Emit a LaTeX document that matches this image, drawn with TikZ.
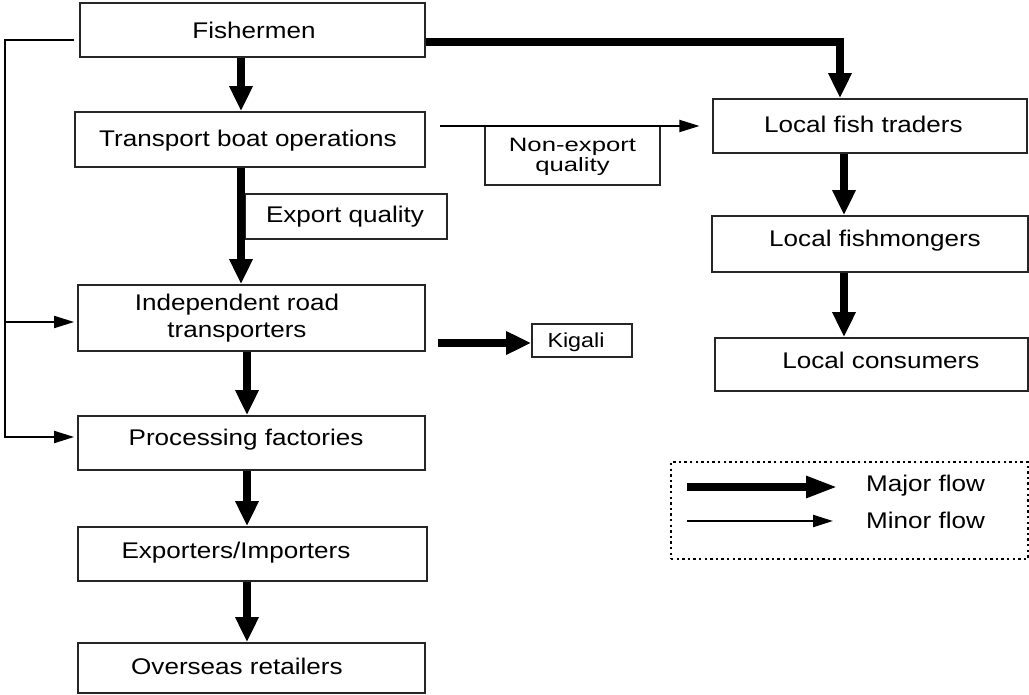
\documentclass[tikz,border=0pt]{standalone}
\usepackage{fontspec}
\setmainfont{Liberation Sans}[FakeStretch=1.15]
\newfontfamily\widefont{Liberation Sans}[FakeStretch=1.33]
\usetikzlibrary{arrows.meta}
\def\pu{0.75pt}
\begin{document}
\begin{tikzpicture}[x=0.75pt,y=-0.75pt,
  box/.style={draw=black!85, line width=1.3pt, inner sep=0pt, rectangle},
  txt/.style={font=\fontsize{17}{20.25}\selectfont, align=center, inner sep=0pt},
  smalltxt/.style={font=\widefont\fontsize{14.5}{15}\selectfont, align=center, inner sep=0pt},
  kigtxt/.style={font=\fontsize{15.2}{17}\selectfont, inner sep=0pt},
  major/.style={line width=5.5pt, -{Triangle[width=16.5pt,length=18.75pt]}},
  minor/.style={line width=1.4pt, -{Triangle[width=9pt,length=15pt]}},
  legmajor/.style={line width=6pt, -{Triangle[width=15pt,length=24pt]}},
  legminor/.style={line width=1.6pt, -{Triangle[width=9pt,length=15pt]}},
  legbox/.style={draw=black, line width=2.2pt, dash pattern=on 1.8pt off 2.4pt, inner sep=0pt, rectangle}
]
\useasboundingbox (0,0) rectangle (1029,695);

% boxes
\node[box, minimum width=345*\pu, minimum height=54*\pu, label={[txt,xshift=1.1pt]center:Fishermen}] (fish) at (252.5,30) {};
\node[box, minimum width=350*\pu, minimum height=55*\pu, label={[txt,xshift=-1.5pt,yshift=-1.1pt]center:Transport boat operations}] (trans) at (250,139.5) {};
\node[box, minimum width=202*\pu, minimum height=45*\pu, label={[txt,xshift=-0.75pt]center:Export quality}] (expq) at (346,216.5) {};
\node[box, minimum width=175*\pu, minimum height=59*\pu, label={[smalltxt,yshift=-1.1pt]center:Non-export\\quality}] (nonexp) at (572.5,155.5) {};
\node[box, minimum width=314*\pu, minimum height=54*\pu, label={[txt,xshift=-4.9pt,yshift=1.5pt]center:Local fish traders}] (lft) at (870,126) {};
\node[box, minimum width=316*\pu, minimum height=56*\pu, label={[txt,xshift=3.75pt,yshift=2.25pt]center:Local fishmongers}] (lfm) at (870,244) {};
\node[box, minimum width=313*\pu, minimum height=53*\pu, label={[txt,xshift=7.1pt,yshift=3.4pt]center:Local consumers}] (lc) at (871.5,364.5) {};
\node[box, minimum width=347*\pu, minimum height=66*\pu, label={[txt,xshift=-10.9pt]center:Independent road\\transporters}] (ind) at (251.5,318) {};
\node[box, minimum width=100*\pu, minimum height=33*\pu, label={[kigtxt,xshift=-4.5pt,yshift=-1.1pt]center:Kigali}] (kig) at (582,340.5) {};
\node[box, minimum width=347*\pu, minimum height=54*\pu, label={[txt,xshift=-4.1pt,yshift=2.25pt]center:Processing factories}] (proc) at (251.5,443) {};
\node[box, minimum width=349*\pu, minimum height=54*\pu, label={[txt,xshift=-12.4pt,yshift=0.75pt]center:Exporters/Importers}] (expimp) at (252.5,554) {};
\node[box, minimum width=347*\pu, minimum height=50*\pu, label={[txt,xshift=-10.9pt,yshift=1.5pt]center:Overseas retailers}] (over) at (251.5,668) {};

% major flows
\draw[major] (241,0 |- fish.south) -- (241,0 |- trans.north);
\draw[major] (241,0 |- trans.south) -- (241,0 |- ind.north);
\draw[major] (247,0 |- ind.south) -- (247,0 |- proc.north);
\draw[major] (247,0 |- proc.south) -- (247,0 |- expimp.north);
\draw[major] (247,0 |- expimp.south) -- (247,0 |- over.north);
\draw[major] (fish.east |- 0,42) -| (840,0 |- lft.north);
\draw[major] (844,0 |- lft.south) -- (844,0 |- lfm.north);
\draw[major] (844,0 |- lfm.south) -- (844,0 |- lc.north);
\draw[major, shorten <=9pt] (ind.east |- 0,343) -- (kig.west |- 0,343);

% minor flows
\draw[minor, shorten <=10.5pt, shorten >=9.5pt] (trans.east |- lft.west) -- (lft.west);
\coordinate (busTop) at (5,40);
\coordinate (busMid) at (5,322);
\coordinate (busBot) at (5,437);
\draw[minor, shorten <=3.75pt, shorten >=2.25pt] (fish.west |- busTop) -- (busTop) -- (busBot) -- (proc.west |- busBot);
\draw[minor, shorten >=2.25pt] (busMid) -- (ind.west |- busMid);

% legend
\node[legbox, minimum width=357*\pu, minimum height=97*\pu] (leg) at (849.5,510.5) {};
\coordinate (majA) at (687,487);
\coordinate (majB) at (838,487);
\coordinate (minA) at (687,521);
\coordinate (minB) at (833,521);
\draw[legmajor] (majA) -- (majB);
\draw[legminor] (minA) -- (minB);
\node[txt] (majT) at (925.5,486) {Major flow};
\node[txt] (minT) at (925.5,520) {Minor flow};
\end{tikzpicture}
\end{document}
